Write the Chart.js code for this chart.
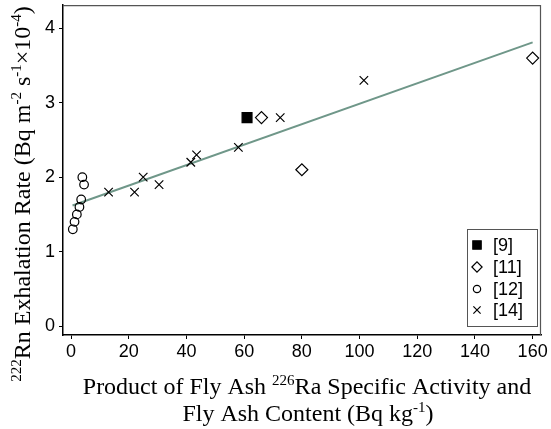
<!DOCTYPE html>
<html><head><meta charset="utf-8">
<script src="https://cdn.jsdelivr.net/npm/chart.js@4"></script>
<style>html,body{margin:0;padding:0;background:#fff;overflow:hidden}</style>
</head><body>
<canvas id="c" width="551" height="435" style="display:block;width:551px;height:435px;margin-top:-3px"></canvas>
<script>
// ---- data ----
const ref9X  = [61];
const ref9Y  = [2.8];
const ref11X = [66, 80, 160];
const ref11Y = [2.8, 2.1, 3.6];
const ref12X = [0.6, 1.2, 2.0, 2.9, 3.5, 3.9, 4.5];
const ref12Y = [1.3, 1.4, 1.5, 1.6, 1.7, 2.0, 1.9];
const ref14X = [13, 22, 25, 30.5, 41.5, 43.5, 58, 72.5, 101.5];
const ref14Y = [1.8, 1.8, 2.0, 1.9, 2.2, 2.3, 2.4, 2.8, 3.3];
const fitX   = [0.5, 160];
const fitY   = [1.62, 3.81];
const xTicks = [0, 20, 40, 60, 80, 100, 120, 140, 160];
const yTicks = [0, 1, 2, 3, 4];
const legendLabels = ['[9]', '[11]', '[12]', '[14]'];

const pts = (xs, ys) => xs.map((x, i) => ({x: x, y: ys[i]}));

const SERIF = '"Liberation Serif", "Times New Roman", serif';
const SANS = '"Liberation Sans", Arial, sans-serif';
const OFF = 3; // canvas is shifted up by this many pixels

function drawRich(ctx, segs, cx, baseY, size) {
  const sup = Math.round(size * 0.64);
  let total = 0;
  segs.forEach(s => {
    ctx.font = (s.sup ? sup : size) + 'px ' + SERIF;
    s.w = ctx.measureText(s.t).width;
    total += s.w;
  });
  let x = cx - total / 2;
  ctx.textAlign = 'left';
  ctx.textBaseline = 'alphabetic';
  segs.forEach(s => {
    ctx.font = (s.sup ? sup : size) + 'px ' + SERIF;
    ctx.fillText(s.t, x, s.sup ? baseY - size * 0.36 : baseY);
    x += s.w;
  });
}

const markers = [
  {style: 'rect', r: 7, fill: '#000'},
  {style: 'rectRot', r: 6, fill: 'rgba(0,0,0,0)'},
  {style: 'circle', r: 4.3, fill: 'rgba(0,0,0,0)'},
  {style: 'crossRot', r: 6, fill: 'rgba(0,0,0,0)'}
];

const decor = {
  id: 'decor',
  beforeDatasetsDraw(chart) {
    const {ctx, chartArea: a} = chart;
    ctx.save();
    ctx.strokeStyle = '#555';
    ctx.lineWidth = 1.2;
    ctx.beginPath();
    ctx.moveTo(a.left, a.top + 0.5);
    ctx.lineTo(a.right - 0.5, a.top + 0.5);
    ctx.lineTo(a.right - 0.5, a.bottom);
    ctx.stroke();
    ctx.restore();
  },
  afterDraw(chart) {
    const ctx = chart.ctx;
    ctx.save();
    ctx.translate(0, OFF);
    ctx.fillStyle = '#000';
    // x title
    drawRich(ctx, [{t: 'Product of Fly Ash '}, {t: '226', sup: true}, {t: 'Ra Specific Activity and'}], 307, 394, 24);
    drawRich(ctx, [{t: 'Fly Ash Content (Bq kg'}, {t: '-1', sup: true}, {t: ')'}], 308, 421, 24);
    // y title
    ctx.save();
    ctx.translate(30, 194);
    ctx.rotate(-Math.PI / 2);
    drawRich(ctx, [{t: '222', sup: true}, {t: 'Rn Exhalation Rate (Bq m'}, {t: '-2', sup: true}, {t: ' s'},
      {t: '-1', sup: true}, {t: '\u00d710'}, {t: '-4', sup: true}, {t: ')'}], 0, 0, 24);
    ctx.restore();
    // legend
    ctx.strokeStyle = '#555';
    ctx.lineWidth = 1;
    ctx.strokeRect(467.5, 229.5, 70, 97);
    const ys = [245, 267, 289, 310];
    ctx.font = '18px ' + SANS;
    ctx.textBaseline = 'middle';
    ctx.textAlign = 'left';
    legendLabels.forEach((lab, i) => {
      const m = markers[i];
      ctx.fillStyle = m.fill;
      ctx.strokeStyle = '#000';
      ctx.lineWidth = 1.2;
      Chart.helpers.drawPoint(ctx, {pointStyle: m.style, radius: m.r * 0.85, rotation: 0, borderWidth: 1.2}, 477, ys[i]);
      ctx.fillStyle = '#000';
      ctx.fillText(lab, 493, ys[i] + 1);
    });
    ctx.restore();
  }
};

const sc = (label, xs, ys, i) => ({
  label: label, data: pts(xs, ys), order: 1,
  pointStyle: markers[i].style, pointRadius: markers[i].r, pointHoverRadius: markers[i].r,
  backgroundColor: markers[i].fill, borderColor: '#000', pointBorderWidth: 1.2, showLine: false
});

new Chart(document.getElementById('c'), {
  type: 'scatter',
  data: {
    datasets: [
      {type: 'line', label: 'fit', data: pts(fitX, fitY), borderColor: '#6f9789', borderWidth: 2,
       pointRadius: 0, fill: false, order: 10, tension: 0},
      sc(legendLabels[0], ref9X, ref9Y, 0),
      sc(legendLabels[1], ref11X, ref11Y, 1),
      sc(legendLabels[2], ref12X, ref12Y, 2),
      sc(legendLabels[3], ref14X, ref14Y, 3)
    ]
  },
  options: {
    responsive: false, animation: false, devicePixelRatio: 1,
    layout: {padding: {top: 4, right: 10, left: 0, bottom: 0}},
    plugins: {legend: {display: false}, tooltip: {enabled: false}},
    scales: {
      x: {
        type: 'linear', min: -2.8, max: 162.9,
        afterBuildTicks: s => { s.ticks = xTicks.map(v => ({value: v})); },
        afterFit: s => { s.height = 97; s.paddingLeft = 0; s.paddingRight = 0; },
        grid: {drawOnChartArea: false, drawTicks: true, tickLength: 4, color: '#000', lineWidth: 1},
        border: {color: '#000', width: 1.5},
        ticks: {color: '#000', font: {family: SANS, size: 18}, padding: 2, maxRotation: 0}
      },
      y: {
        type: 'linear', min: -0.12, max: 4.31,
        afterBuildTicks: s => { s.ticks = yTicks.map(v => ({value: v})); },
        afterFit: s => { s.width = 63; s.paddingTop = 0; s.paddingBottom = 0; },
        grid: {drawOnChartArea: false, drawTicks: true, tickLength: 4, color: '#000', lineWidth: 1},
        border: {color: '#000', width: 1.5},
        ticks: {color: '#000', font: {family: SANS, size: 18}, padding: 4}
      }
    }
  },
  plugins: [decor]
});
</script>
</body></html>
